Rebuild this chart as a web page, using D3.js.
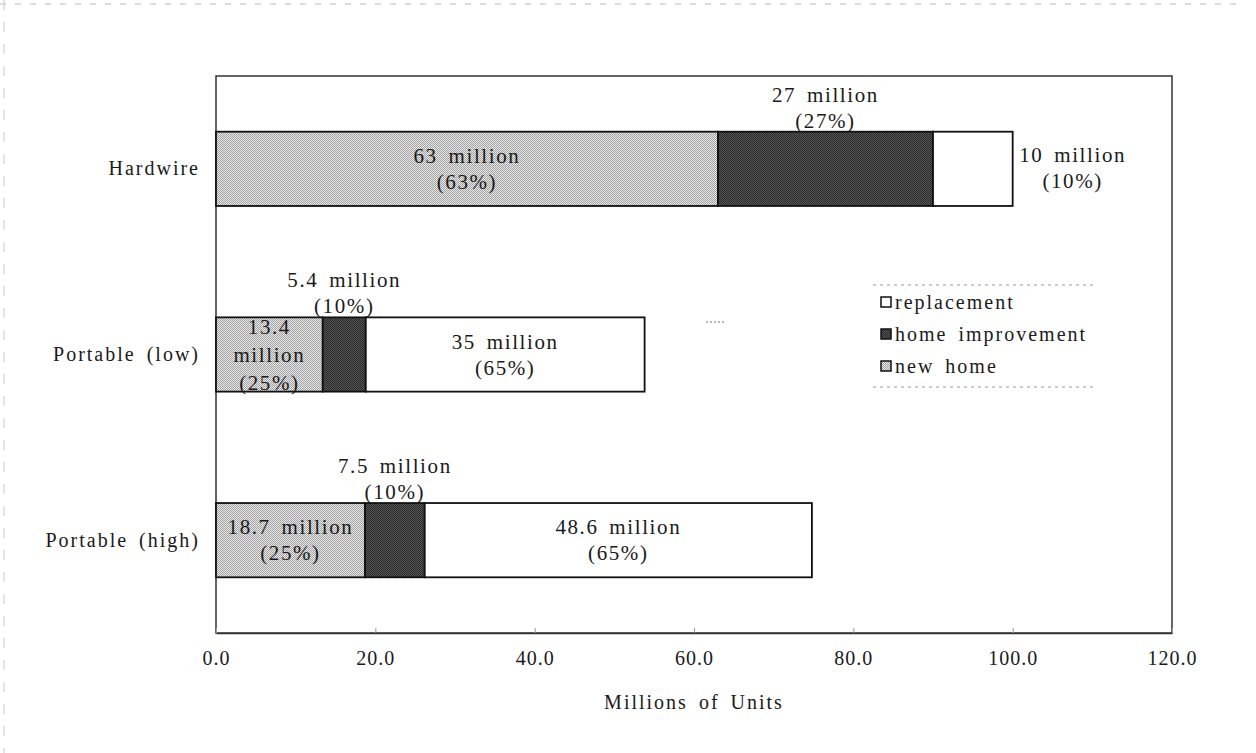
<!DOCTYPE html>
<html>
<head>
<meta charset="utf-8">
<script src="https://cdn.jsdelivr.net/npm/d3@7"></script>
<style>
  body { margin: 0; background: #fff; }
  text { font-family: "Liberation Serif", "Times New Roman", serif; fill: #1a1a1a; }
</style>
</head>
<body>
<svg id="chart"></svg>
<script>
const categories = ["Hardwire", "Portable (low)", "Portable (high)"];
const seriesNames = ["new home", "home improvement", "replacement"];
const newHome = [63, 13.4, 18.7];
const homeImprovement = [27, 5.4, 7.5];
const replacement = [10, 35, 48.6];
const newHomePct = [63, 25, 25];
const homeImprovementPct = [27, 10, 10];
const replacementPct = [10, 65, 65];
const xTicks = [0, 20, 40, 60, 80, 100, 120];
const legendOrder = ["replacement", "home improvement", "new home"];

const dimensions = {
  width: 1256,
  height: 753,
  margin: { top: 76, right: 84, bottom: 120, left: 216 }
};

const svg = d3.select("#chart")
  .attr("width", dimensions.width)
  .attr("height", dimensions.height);

svg.append("rect")
  .attr("width", dimensions.width)
  .attr("height", dimensions.height)
  .attr("fill", "#fff");

// fill patterns that imitate the printed screens
const defs = svg.append("defs");
function makePattern(id, a, b) {
  const p = defs.append("pattern")
    .attr("id", id)
    .attr("width", 2)
    .attr("height", 2)
    .attr("patternUnits", "userSpaceOnUse");
  p.append("rect").attr("width", 2).attr("height", 2).attr("fill", a);
  p.append("rect").attr("width", 1).attr("height", 1).attr("fill", b);
  p.append("rect").attr("x", 1).attr("y", 1).attr("width", 1).attr("height", 1).attr("fill", b);
}
makePattern("lightDots", "#e6e6e6", "#a4a4a4");
makePattern("darkDots", "#555", "#2a2a2a");

const fills = {
  "new home": "url(#lightDots)",
  "home improvement": "url(#darkDots)",
  "replacement": "#fff"
};

const plotLeft = dimensions.margin.left;
const plotRight = dimensions.width - dimensions.margin.right;
const plotTop = dimensions.margin.top;
const plotBottom = dimensions.height - dimensions.margin.bottom;

const xScale = d3.scaleLinear().domain([0, 120]).range([plotLeft, plotRight]);
const yScale = d3.scaleBand()
  .domain(categories)
  .range([plotTop, plotBottom])
  .paddingInner(0.6)
  .paddingOuter(0.3);

// scan edge marks
svg.append("line")
  .attr("x1", 0).attr("x2", 1240).attr("y1", 4).attr("y2", 4)
  .attr("stroke", "#bbb").attr("stroke-dasharray", "6 9");
svg.append("line")
  .attr("x1", 4).attr("x2", 4).attr("y1", 0).attr("y2", dimensions.height)
  .attr("stroke", "#c8c8c8").attr("stroke-dasharray", "10 12");

// plot frame
svg.append("rect")
  .attr("x", plotLeft)
  .attr("y", plotTop)
  .attr("width", plotRight - plotLeft)
  .attr("height", plotBottom - plotTop)
  .attr("fill", "none")
  .attr("stroke", "#333")
  .attr("stroke-width", 1.5);

const table = categories.map((c, i) => ({
  category: c,
  "new home": newHome[i],
  "home improvement": homeImprovement[i],
  "replacement": replacement[i]
}));
const pcts = {
  "new home": newHomePct,
  "home improvement": homeImprovementPct,
  "replacement": replacementPct
};

const stacked = d3.stack().keys(seriesNames)(table);

const layers = svg.append("g")
  .selectAll("g")
  .data(stacked)
  .join("g")
  .attr("fill", d => fills[d.key]);

layers.selectAll("rect")
  .data(d => d)
  .join("rect")
  .attr("x", d => xScale(d[0]))
  .attr("y", d => yScale(d.data.category))
  .attr("width", d => xScale(d[1]) - xScale(d[0]))
  .attr("height", yScale.bandwidth())
  .attr("stroke", "#111")
  .attr("stroke-width", 1.8);

// x axis
const axisX = d3.axisBottom(xScale)
  .tickValues(xTicks)
  .tickFormat(d3.format(".1f"))
  .tickSizeInner(-5)
  .tickSizeOuter(0)
  .tickPadding(18);

const gx = svg.append("g")
  .attr("transform", `translate(0, ${plotBottom})`)
  .call(axisX);
gx.select(".domain").attr("stroke", "#333").attr("stroke-width", 1.5);
gx.selectAll(".tick line").attr("stroke", "#999");
gx.selectAll("text")
  .attr("font-size", 20)
  .attr("letter-spacing", 1)
  .attr("fill", "#1a1a1a");

svg.append("text")
  .attr("x", (plotLeft + plotRight) / 2)
  .attr("y", plotBottom + 76)
  .attr("text-anchor", "middle")
  .attr("font-size", 20)
  .attr("letter-spacing", 2)
  .attr("word-spacing", 4)
  .text("Millions of Units");

// y axis labels
const axisY = d3.axisLeft(yScale).tickSize(0).tickPadding(16);
const gy = svg.append("g")
  .attr("transform", `translate(${plotLeft}, 0)`)
  .call(axisY);
gy.select(".domain").remove();
gy.selectAll("text")
  .attr("font-size", 20)
  .attr("letter-spacing", 2)
  .attr("word-spacing", 4)
  .attr("fill", "#1a1a1a");

// segment labels
function fmt(v) { return v + " million"; }
const labelGroup = svg.append("g")
  .attr("font-size", 21)
  .attr("letter-spacing", 1.6)
  .attr("word-spacing", 4);

stacked.forEach(layer => {
  layer.forEach((d, i) => {
    const cx = (xScale(d[0]) + xScale(d[1])) / 2;
    const y0 = yScale(d.data.category);
    const cy = y0 + yScale.bandwidth() / 2;
    const value = +(d[1] - d[0]).toFixed(1);
    const pct = "(" + pcts[layer.key][i] + "%)";
    let lines, x, yStart, step = 26;
    if (layer.key === "home improvement") {
      lines = [fmt(value), pct];
      x = cx;
      yStart = y0 - 30;
    } else if (layer.key === "replacement" && i === 0) {
      lines = [fmt(value), pct];
      x = xScale(d[1]) + 60;
      yStart = cy - 7;
    } else if (layer.key === "new home" && i === 1) {
      lines = [String(value), "million", pct];
      x = cx;
      step = 28;
      yStart = cy - 21;
    } else {
      lines = [fmt(value), pct];
      x = cx;
      yStart = cy - 6;
    }
    const t = labelGroup.append("text")
      .attr("x", x)
      .attr("y", yStart)
      .attr("text-anchor", "middle");
    lines.forEach((ln, k) => {
      t.append("tspan")
        .attr("x", x)
        .attr("y", yStart + k * step)
        .text(ln);
    });
  });
});

// legend
const legend = svg.append("g").attr("transform", "translate(873, 285)");
legend.append("line")
  .attr("x1", 0).attr("x2", 224).attr("y1", 0).attr("y2", 0)
  .attr("stroke", "#999").attr("stroke-dasharray", "3 4");
legend.append("line")
  .attr("x1", 0).attr("x2", 224).attr("y1", 102).attr("y2", 102)
  .attr("stroke", "#999").attr("stroke-dasharray", "3 4");

const items = legend.selectAll("g.item")
  .data(legendOrder)
  .join("g")
  .attr("class", "item")
  .attr("transform", (d, i) => `translate(8, ${18 + i * 32})`);
items.append("rect")
  .attr("x", 0).attr("y", -6)
  .attr("width", 10).attr("height", 10)
  .attr("fill", d => fills[d])
  .attr("stroke", "#111")
  .attr("stroke-width", 1.5);
items.append("text")
  .attr("x", 14)
  .attr("y", 6)
  .attr("font-size", 20)
  .attr("letter-spacing", 2)
  .attr("word-spacing", 4)
  .text(d => d);

// stray scan mark
svg.append("line")
  .attr("x1", 706).attr("x2", 726).attr("y1", 322).attr("y2", 322)
  .attr("stroke", "#777").attr("stroke-dasharray", "2 2");
</script>
</body>
</html>
